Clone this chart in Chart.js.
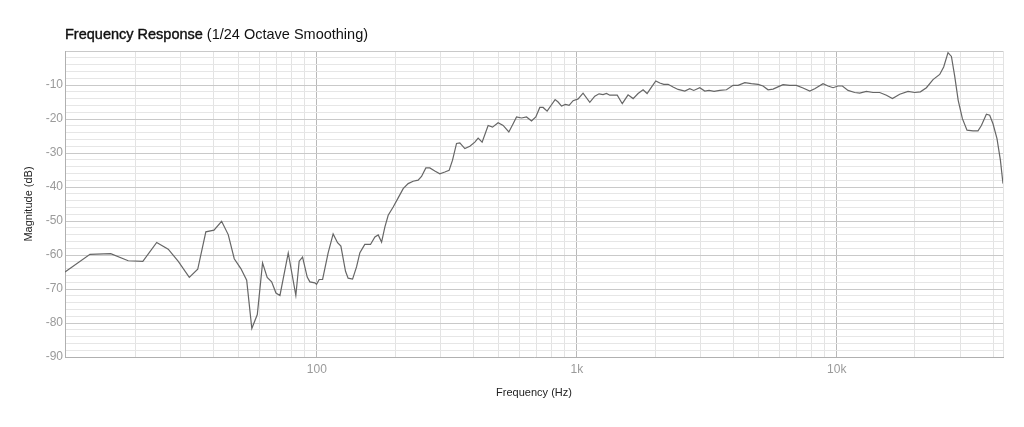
<!DOCTYPE html>
<html lang="en">

<head>
    <meta charset="UTF-8">
    <script src="https://cdn.jsdelivr.net/npm/chart.js"></script>
    <title>Frequency Response</title>
    <style>
        body { margin: 0; background: #fff; }
        #wrap { position: relative; width: 1024px; height: 427px; }
        #title {
            position: absolute; left: 65px; top: 26px;
            font: 14.5px "Liberation Sans", Arial, sans-serif; color: #111;
        }
        #title b { font-weight: normal; -webkit-text-stroke: 0.4px #111; }
    </style>
</head>

<body>
    <div id="wrap">
        <div id="title"><b>Frequency Response</b> (1/24 Octave Smoothing)</div>
        <canvas id="myChart"></canvas>
    </div>
    <script>
        // Frequency points (Hz) and magnitude (dB)
        const freqHz = [
            10.74, 13.4, 16.1, 18.8, 21.4, 24.2, 26.8, 29.3, 32.3, 34.8,
            37.4, 40.2, 43.0, 45.6, 48.1, 51.0, 53.7, 56.2, 59.0, 61.8,
            64.4, 67.0, 69.6, 72.1, 77.6, 83.0, 85.5, 88.1, 91.8, 94.0,
            98.2, 99.7, 102.1, 105.2, 110.5, 115.5, 120.1, 123.7, 128.9, 131.9,
            137.2, 142.1, 146.4, 152.9, 160.8, 167.2, 172.2, 177.4, 182.6, 188.1,
            196.6, 205.5, 214.8, 224.5, 234.6, 245.2, 252.7, 262.6, 272, 284.3,
            297.2, 310.7, 322.7, 332.6, 344.6, 354.8, 370.9, 387.7, 405.3, 417.3,
            432.3, 455.9, 474, 498.1, 520.7, 547.7, 568.9, 586.3, 612.9, 640.6,
            669.6, 695.5, 720.6, 742, 768.8, 799.3, 825.2, 847.5, 873.4, 904.7,
            934.2, 967.8, 1012, 1057, 1122, 1173, 1218, 1262, 1301, 1339,
            1431, 1496, 1575, 1647, 1721, 1799, 1864, 1938, 2013, 2086,
            2161, 2245, 2346, 2453, 2603, 2720, 2818, 2972, 3107, 3227,
            3374, 3548, 3765, 3993, 4174, 4429, 4697, 4981, 5206, 5442,
            5689, 6000, 6217, 6595, 6998, 7420, 7875, 8229, 8857, 9258,
            9679, 10116, 10517, 11052, 11728, 12259, 13010, 13790, 14634, 15533,
            16380, 17473, 18804, 19953, 20986, 22131, 23467, 24901, 25791, 26800,
            27621, 28434, 29331, 30446, 31711, 33437, 34955, 36020, 37649, 38770,
            39923, 41357, 42626, 43620
        ];
        const magDb = [
            -65.0, -59.8, -59.6, -61.7, -61.9, -56.3, -58.3, -61.9, -66.6, -64.2,
            -53.2, -52.7, -50.1, -54.0, -61.1, -64.0, -67.4, -81.6, -77.5, -62.3,
            -66.6, -67.9, -71.2, -71.9, -59.4, -71.9, -61.8, -60.6, -66.5, -67.9,
            -68.2, -68.6, -67.2, -67.2, -59.4, -53.8, -56.4, -57.4, -64.8, -66.8,
            -67.1, -63.5, -59.3, -56.9, -56.9, -54.7, -54.1, -56.2, -51.8, -48.3,
            -45.9, -43.2, -40.5, -39.0, -38.3, -38.0, -36.9, -34.4, -34.4, -35.3,
            -36.1, -35.6, -35.1, -32.1, -27.2, -27.0, -28.7, -28.0, -26.8, -25.6,
            -26.8, -21.9, -22.4, -21.1, -21.9, -23.8, -21.4, -19.4, -19.7, -19.4,
            -20.6, -19.4, -16.6, -16.6, -17.7, -15.8, -14.3, -15.0, -16.2, -15.7,
            -16.0, -14.6, -14.1, -12.4, -15.1, -13.3, -12.6, -12.8, -12.5, -13.0,
            -13.0, -15.5, -12.9, -14.0, -12.5, -11.4, -12.5, -10.6, -8.8, -9.4,
            -9.8, -9.8, -10.6, -11.3, -11.8, -11.1, -11.6, -10.8, -11.8, -11.6,
            -11.9, -11.6, -11.4, -10.1, -10.1, -9.3, -9.6, -9.8, -10.3, -11.4,
            -11.2, -10.4, -9.9, -10.1, -10.1, -10.9, -11.8, -11.1, -9.6, -10.3,
            -10.8, -10.3, -10.3, -11.6, -12.2, -12.4, -11.9, -12.2, -12.2, -13.0,
            -14.0, -12.7, -11.9, -12.2, -12.0, -10.8, -8.4, -6.9, -4.7, -0.5,
            -1.6, -7.4, -14.5, -19.9, -23.3, -23.5, -23.5, -21.9, -18.6, -18.9,
            -21.4, -25.8, -32.1, -39.0
        ];

        // Axis range and tick marks
        const xMin = 10.74;
        const xMax = 43620;
        const xGridValues = [
            20, 30, 40, 50, 60, 70, 80, 90,
            100, 200, 300, 400, 500, 600, 700, 800, 900,
            1000, 2000, 3000, 4000, 5000, 6000, 7000, 8000, 9000,
            10000, 20000, 30000, 40000
        ];
        const xLabels = { 100: '100', 1000: '1k', 10000: '10k' };
        const yMin = -90;
        const yMax = 0;

        const points = freqHz.map((f, i) => ({ x: f, y: magDb[i] }));

        Chart.defaults.font.family = '"Liberation Sans", Arial, sans-serif';

        const chartConfig = {
            type: 'line',
            data: {
                datasets: [{
                    data: points,
                    borderColor: '#666666',
                    borderWidth: 1.2,
                    pointRadius: 0,
                    tension: 0,
                    fill: false,
                }],
            },
            options: {
                responsive: true,
                maintainAspectRatio: false,
                animation: false,
                layout: { padding: { top: 51, right: 21, bottom: 27, left: 22 } },
                plugins: { legend: { display: false }, tooltip: { enabled: false } },
                scales: {
                    x: {
                        type: 'logarithmic',
                        min: xMin,
                        max: xMax,
                        afterBuildTicks: (axis) => {
                            axis.ticks = [xMin, ...xGridValues, xMax].map(v => ({ value: v }));
                        },
                        afterFit: (axis) => { axis.height = 43; },
                        ticks: {
                            autoSkip: false,
                            maxRotation: 0,
                            padding: 5,
                            color: '#9a9a9a',
                            font: { size: 12 },
                            callback: (v) => xLabels[v] || '',
                        },
                        grid: {
                            drawTicks: false,
                            color: (ctx) => (ctx.tick && xLabels[ctx.tick.value]) ? '#b9b9b9' : '#e3e3e3',
                        },
                        border: { color: '#b0b0b0' },
                        title: {
                            display: true,
                            text: 'Frequency (Hz)',
                            color: '#222',
                            font: { size: 11 },
                            padding: { top: 0, bottom: 0 },
                        },
                    },
                    y: {
                        min: yMin,
                        max: yMax,
                        afterFit: (axis) => { axis.width = 43; },
                        ticks: {
                            stepSize: 2,
                            autoSkip: false,
                            padding: 2,
                            color: '#9a9a9a',
                            font: { size: 12 },
                            callback: (v) => (v % 10 === 0 && v !== 0) ? String(v) : '',
                        },
                        grid: {
                            drawTicks: false,
                            color: (ctx) => (ctx.tick && ctx.tick.value % 10 === 0) ? '#c9c9c9' : '#e6e6e6',
                        },
                        border: { color: '#b0b0b0' },
                        title: {
                            display: true,
                            text: 'Magnitude (dB)',
                            color: '#222',
                            font: { size: 11 },
                            padding: { top: 0, bottom: 0 },
                        },
                    },
                },
            },
        };

        const ctx = document.getElementById('myChart').getContext('2d');
        const myChart = new Chart(ctx, chartConfig);
    </script>
</body>

</html>
